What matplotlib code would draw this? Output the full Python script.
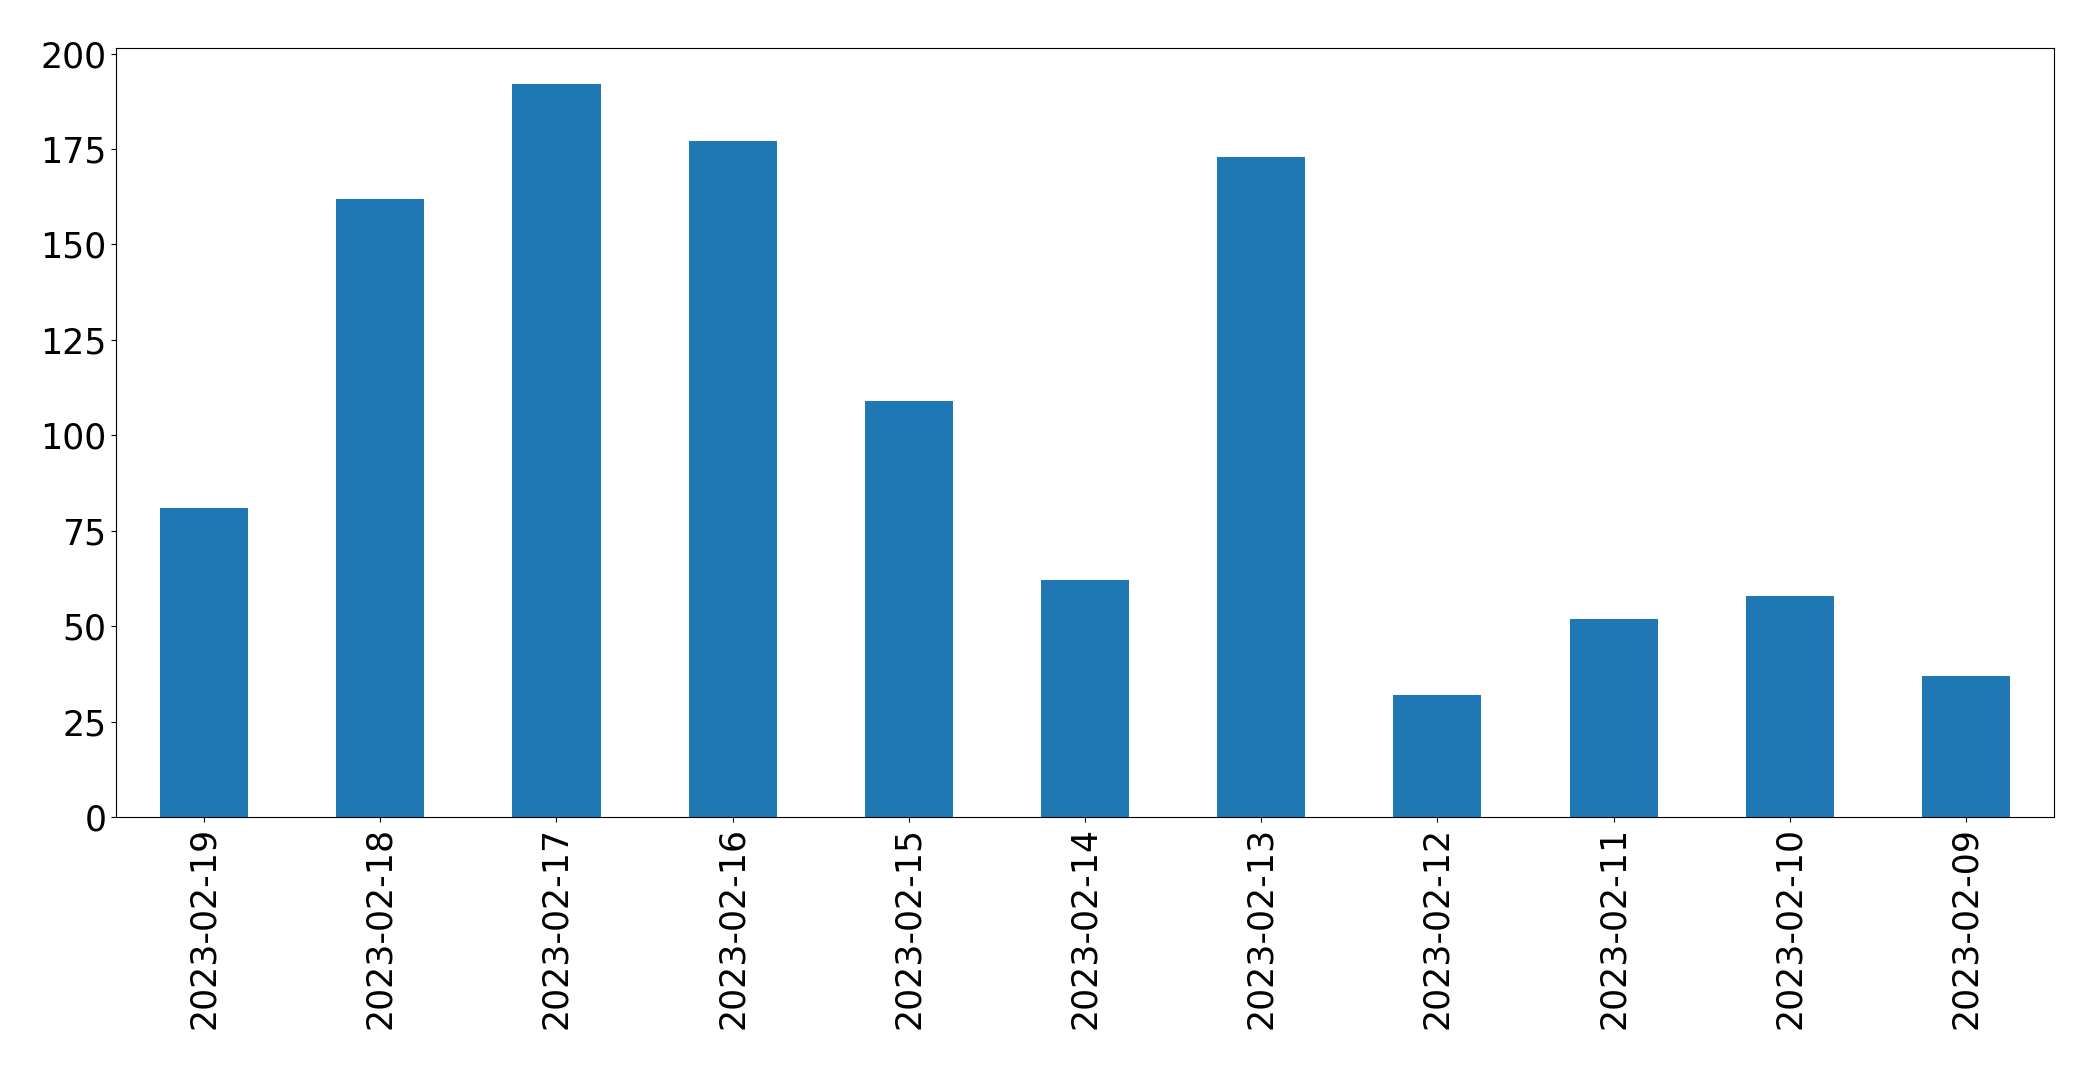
import matplotlib
matplotlib.use("Agg")
import matplotlib.pyplot as plt
import pandas as pd

# daily counts, newest first
dates = ["2023-02-19", "2023-02-18", "2023-02-17", "2023-02-16", "2023-02-15",
         "2023-02-14", "2023-02-13", "2023-02-12", "2023-02-11", "2023-02-10",
         "2023-02-09"]
counts = [81, 162, 192, 177, 109, 62, 173, 32, 52, 58, 37]

s = pd.Series(counts, index=dates)

plt.rcParams['font.size'] = 25
fig = plt.figure(figsize=(20.93, 10.69), dpi=100)
ax = fig.add_subplot(111)
s.plot(kind="bar", ax=ax, color="#1f77b4", width=0.5)
ax.tick_params(axis="both", labelsize=25)
fig.subplots_adjust(left=116/2093, right=2054/2093, top=1-47.5/1069, bottom=1-817/1069)
fig.savefig("out.png", dpi=100)
